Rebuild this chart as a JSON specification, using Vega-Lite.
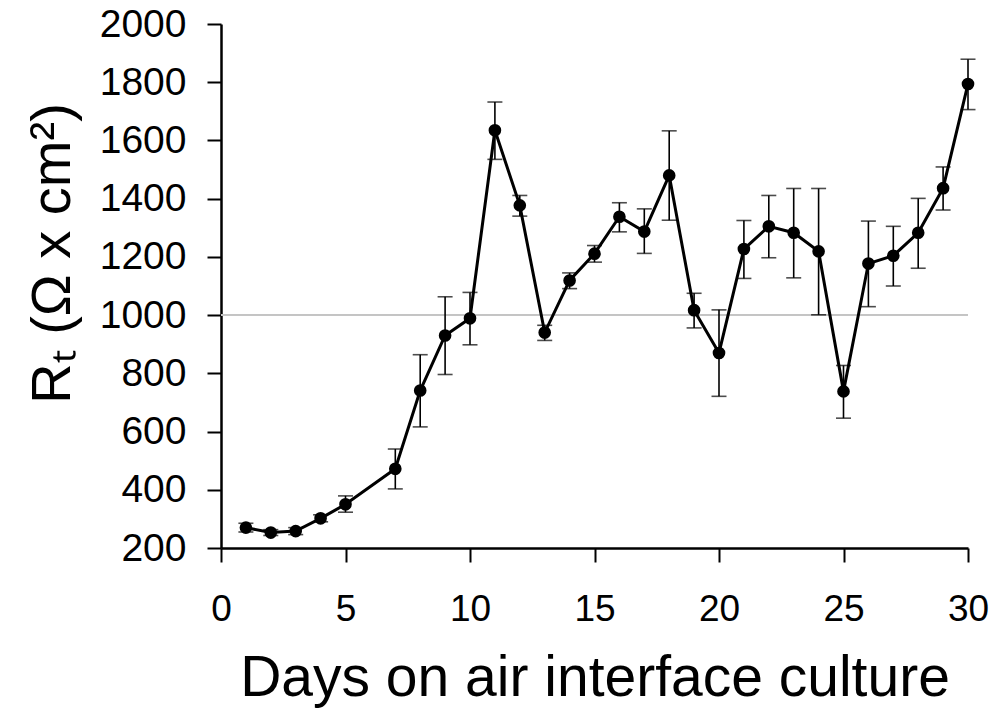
{
  "$schema": "https://vega.github.io/schema/vega-lite/v6.json",
  "autosize": {"type": "none"},
  "padding": {"left": 221, "top": 24, "right": 27, "bottom": 164},
  "width": 747,
  "height": 524,
  "background": "white",
  "config": {
    "view": {"stroke": null},
    "font": "Liberation Sans",
    "axis": {"labelFont": "Liberation Sans", "titleFont": "Liberation Sans", "labelColor": "black", "titleColor": "black", "domainColor": "black", "tickColor": "black", "titleFontWeight": "normal", "grid": false}
  },
  "data": {
    "values": [
      {"day": 1, "rt": 270, "lo": 255, "hi": 285},
      {"day": 2, "rt": 253, "lo": 243, "hi": 263},
      {"day": 3, "rt": 258, "lo": 246, "hi": 270},
      {"day": 4, "rt": 302, "lo": 290, "hi": 314},
      {"day": 5, "rt": 350, "lo": 323, "hi": 379},
      {"day": 7, "rt": 472, "lo": 403, "hi": 540},
      {"day": 8, "rt": 741, "lo": 616, "hi": 864},
      {"day": 9, "rt": 930, "lo": 796, "hi": 1063},
      {"day": 10, "rt": 989, "lo": 898, "hi": 1078},
      {"day": 11, "rt": 1635, "lo": 1535, "hi": 1732},
      {"day": 12, "rt": 1377, "lo": 1340, "hi": 1411},
      {"day": 13, "rt": 940, "lo": 913, "hi": 965},
      {"day": 14, "rt": 1119, "lo": 1091, "hi": 1145},
      {"day": 15, "rt": 1211, "lo": 1182, "hi": 1239},
      {"day": 16, "rt": 1338, "lo": 1286, "hi": 1386},
      {"day": 17, "rt": 1287, "lo": 1212, "hi": 1365},
      {"day": 18, "rt": 1480, "lo": 1326, "hi": 1633},
      {"day": 19, "rt": 1017, "lo": 956, "hi": 1075},
      {"day": 20, "rt": 870, "lo": 721, "hi": 1018},
      {"day": 21, "rt": 1227, "lo": 1126, "hi": 1325},
      {"day": 22, "rt": 1305, "lo": 1197, "hi": 1411},
      {"day": 23, "rt": 1283, "lo": 1128, "hi": 1435},
      {"day": 24, "rt": 1219, "lo": 1001, "hi": 1435},
      {"day": 25, "rt": 738, "lo": 646, "hi": 827},
      {"day": 26, "rt": 1177, "lo": 1029, "hi": 1323},
      {"day": 27, "rt": 1204, "lo": 1100, "hi": 1305},
      {"day": 28, "rt": 1283, "lo": 1161, "hi": 1401},
      {"day": 29, "rt": 1436, "lo": 1361, "hi": 1509},
      {"day": 30, "rt": 1794, "lo": 1706, "hi": 1879}
    ]
  },
  "layer": [
    {
      "mark": {"type": "rule", "color": "#c4c4c4", "strokeWidth": 1.3},
      "encoding": {"y": {"datum": 1000, "type": "quantitative", "scale": {"domain": [200, 2000], "nice": false, "zero": false}}}
    },
    {
      "mark": {"type": "rule", "color": "black", "strokeWidth": 1.6},
      "encoding": {
        "x": {"field": "day", "type": "quantitative", "scale": {"domain": [0, 30], "nice": false, "zero": false},
          "axis": {"values": [0, 5, 10, 15, 20, 25, 30], "format": "d", "labelFontSize": 37, "tickSize": 14, "tickWidth": 2, "domainWidth": 2.5, "labelPadding": 29, "title": "Days on air interface culture", "titleFontSize": 57, "titleBaseline": "alphabetic", "titleY": 147, "labelFlush": false}},
        "y": {"field": "lo", "type": "quantitative", "scale": {"domain": [200, 2000], "nice": false, "zero": false},
          "axis": {"values": [200, 400, 600, 800, 1000, 1200, 1400, 1600, 1800, 2000], "format": "d", "labelFontSize": 39, "tickSize": 14, "tickWidth": 2, "domainWidth": 2.5, "labelPadding": 21, "title": "Rₜ (Ω x cm²)", "titleFontSize": 56, "titleBaseline": "alphabetic", "titleX": -152, "titleY": 229, "labelFlush": false}},
        "y2": {"field": "hi"}
      }
    },
    {
      "mark": {"type": "tick", "color": "black", "orient": "horizontal", "size": 15, "thickness": 1.6},
      "encoding": {
        "x": {"field": "day", "type": "quantitative"},
        "y": {"field": "lo", "type": "quantitative"}
      }
    },
    {
      "mark": {"type": "tick", "color": "black", "orient": "horizontal", "size": 15, "thickness": 1.6},
      "encoding": {
        "x": {"field": "day", "type": "quantitative"},
        "y": {"field": "hi", "type": "quantitative"}
      }
    },
    {
      "mark": {"type": "line", "color": "black", "strokeWidth": 3},
      "encoding": {
        "x": {"field": "day", "type": "quantitative"},
        "y": {"field": "rt", "type": "quantitative"}
      }
    },
    {
      "mark": {"type": "point", "filled": true, "shape": "circle", "color": "black", "size": 160, "opacity": 1},
      "encoding": {
        "x": {"field": "day", "type": "quantitative"},
        "y": {"field": "rt", "type": "quantitative"}
      }
    }
  ]
}
